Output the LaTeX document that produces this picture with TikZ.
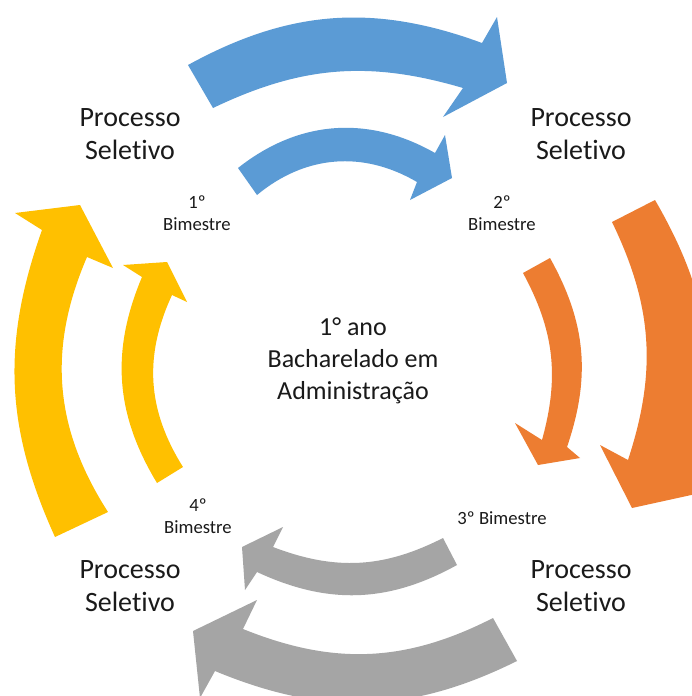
\documentclass[tikz,border=0pt]{standalone}
\usepackage{fontspec}
\setmainfont{Carlito}[Ligatures=NoCommon]
\definecolor{cblue}{HTML}{5B9BD5}
\definecolor{corange}{HTML}{ED7D31}
\definecolor{cgray}{HTML}{A5A5A5}
\definecolor{cyellow}{HTML}{FFC000}
\definecolor{ctext}{HTML}{1A1A1A}
\tikzset{
  proc/.style={align=center, text=ctext, inner sep=0pt, font=\fontsize{21}{25}\selectfont},
  bim/.style={align=center, text=ctext, inner sep=0pt, font=\fontsize{14}{16.5}\selectfont},
  ctr/.style={align=center, text=ctext, inner sep=0pt, font=\fontsize{19.5}{24}\selectfont}
}
\begin{document}
\begin{tikzpicture}[x=0.75pt,y=-0.75pt]
\useasboundingbox (0,0) rectangle (692,696);
\fill[white] (0,0) rectangle (692,696);
\begin{scope}
\clip (0,0) rectangle (692,696);
% blue outer
\fill[cblue] (188,65) to[bend left=24.5] (482,43)
  -- (497,17) -- (507,83) -- (443,117) -- (463,88)
  to[bend right=21] (213,108) -- cycle;
% blue inner
\fill[cblue] (238,168) to[bend left=34] (435,153)
  -- (445,135) -- (452,178) -- (410,200) -- (417,182)
  to[bend right=35] (257,195) -- cycle;
% orange outer
\fill[corange] (655,200) to[bend left=21] (698,468)
  -- (714,490) -- (632,508) -- (600,445) -- (628,460)
  to[bend right=22] (612,222) -- cycle;
% orange inner
\fill[corange] (550,258) to[bend left=24] (567,447)
  -- (580,458) -- (538,465) -- (515,423) -- (542,440)
  to[bend right=22] (523,273) -- cycle;
% gray inner
\fill[cgray] (443,538) to[bend left=24] (273,547)
  -- (283,527) -- (242,547) -- (245,590) -- (257,572)
  to[bend right=27] (457,565) -- cycle;
% gray outer
\fill[cgray] (493,618) to[bend left=24.5] (243,629)
  -- (257,600) -- (193,631) -- (200,698) -- (215,671)
  to[bend right=24.5] (517,661) -- cycle;
% yellow outer
\fill[cyellow] (55,537) to[bend left=22] (42,230)
  -- (15,213) -- (80,205) -- (113,268) -- (87,257)
  to[bend right=28] (108,512) -- cycle;
% yellow inner
\fill[cyellow] (157,483) to[bend left=27] (142,277)
  -- (123,265) -- (167,262) -- (187,302) -- (172,295)
  to[bend right=28.5] (183,467) -- cycle;
\end{scope}
% labels
\node[proc] (ps1) at (130,134) {Processo\\Seletivo};
\node[proc] (ps2) at (581,134) {Processo\\Seletivo};
\node[proc] (ps3) at (130,586) {Processo\\Seletivo};
\node[proc] (ps4) at (581,586) {Processo\\Seletivo};
\node[bim] (b1) at (197,213) {1º\\Bimestre};
\node[bim] (b2) at (502,213) {2º\\Bimestre};
\node[bim] (b3) at (502,518) {3º Bimestre};
\node[bim] (b4) at (198,516) {4º\\Bimestre};
\node[ctr] (center) at (353,361) {1° ano\\Bacharelado em\\Administração};
\end{tikzpicture}
\end{document}
